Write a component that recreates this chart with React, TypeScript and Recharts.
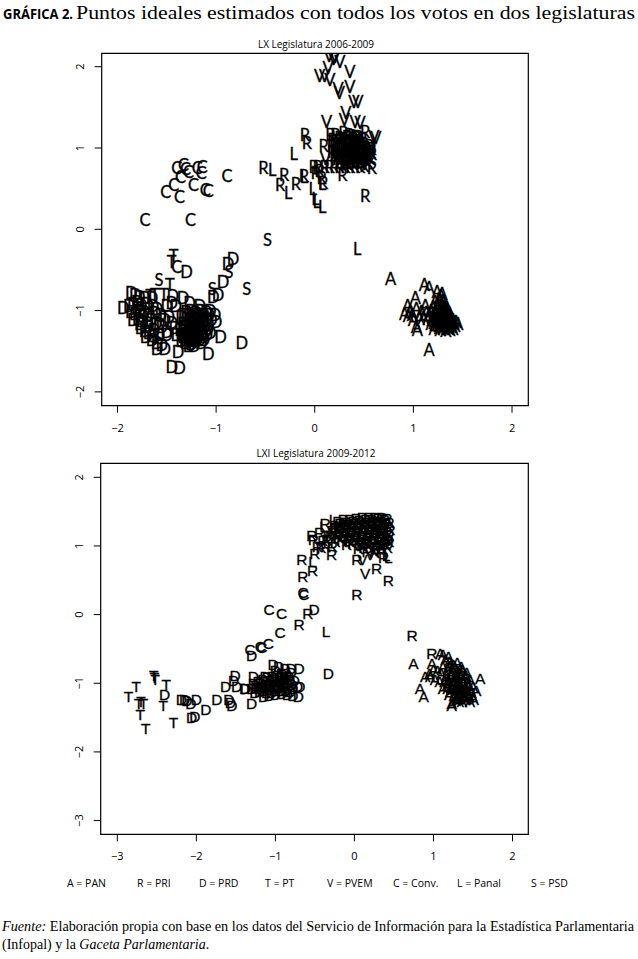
import React from 'react';
import { ScatterChart, Scatter, XAxis, YAxis, ReferenceArea } from 'recharts';

type P = [number, number];

// ---------- LX Legislatura 2006-2009 ----------
const lxPAN: P[] = [
  [0.77, -0.61], [1.16, -1.49], [1.11, -0.69], [1.16, -0.72], [1.24, -0.77], [1.29, -0.8],
  [1.02, -0.85], [0.94, -0.94], [0.91, -1.04], [0.95, -1.07], [0.99, -1.05], [1.04, -1.24],
  [1.08, -1.02], [1.12, -0.95], [1.03, -0.98], [0.97, -1.01], [1.0, -1.12], [1.03, -1.2],
  [1.28, -0.82], [1.26, -0.86], [1.3, -0.88], [1.22, -0.9], [1.25, -0.92], [1.29, -0.93],
  [1.33, -0.94], [1.2, -0.96], [1.24, -0.97], [1.27, -0.99], [1.31, -0.98], [1.35, -1.0],
  [1.18, -1.01], [1.22, -1.02], [1.26, -1.03], [1.29, -1.04], [1.33, -1.05], [1.37, -1.06],
  [1.16, -1.06], [1.2, -1.07], [1.24, -1.08], [1.28, -1.09], [1.32, -1.1], [1.36, -1.11],
  [1.4, -1.12], [1.15, -1.11], [1.19, -1.12], [1.23, -1.13], [1.27, -1.14], [1.31, -1.15],
  [1.35, -1.16], [1.39, -1.15], [1.43, -1.14], [1.18, -1.17], [1.22, -1.18], [1.26, -1.19],
  [1.3, -1.2], [1.34, -1.21], [1.38, -1.2], [1.42, -1.19], [1.45, -1.17], [1.21, -1.23],
  [1.27, -1.24], [1.33, -1.25], [1.37, -1.24], [1.4, -1.23], [1.1, -1.09], [1.13, -1.03],
  [1.06, -1.1], [1.3, -1.01], [1.34, -0.97], [1.25, -1.11], [1.29, -1.12], [1.21, -1.15],
  [1.245, -0.95], [1.285, -0.96], [1.325, -1.02], [1.365, -1.03], [1.225, -1.05], [1.265, -1.06],
  [1.305, -1.07], [1.345, -1.08], [1.385, -1.09], [1.205, -1.1], [1.245, -1.12], [1.285, -1.11],
  [1.325, -1.13], [1.365, -1.14], [1.405, -1.17], [1.245, -1.16], [1.285, -1.17], [1.325, -1.18],
  [1.365, -1.18], [1.305, -1.23], [1.355, -1.23], [1.265, -1.21],
];

const lxPRI: P[] = [
  [-0.1, 1.16], [-0.08, 1.06], [0.09, 1.03], [0.16, 1.16], [0.21, 1.16], [0.29, 1.18],
  [0.51, 1.2], [0.58, 0.93], [0.58, 0.75], [-0.52, 0.75], [-0.31, 0.67], [-0.35, 0.54],
  [-0.19, 0.56], [-0.11, 0.65], [-0.01, 0.77], [0.03, 0.77], [0.01, 0.69], [0.1, 0.77],
  [0.15, 0.77], [0.2, 0.77], [0.25, 0.77], [0.31, 0.77], [0.36, 0.77], [0.41, 0.77],
  [0.46, 0.77], [0.28, 0.67], [0.085, 0.57], [0.07, 0.63], [0.51, 0.41], [0.05, 0.72],
  [0.2, 1.05], [0.25, 1.08], [0.3, 1.1], [0.35, 1.12], [0.4, 1.1], [0.45, 1.08],
  [0.5, 1.05], [0.55, 1.02], [0.22, 0.98], [0.27, 1.0], [0.32, 1.02], [0.37, 1.04],
  [0.42, 1.03], [0.47, 1.01], [0.52, 0.98], [0.57, 0.95], [0.2, 0.92], [0.25, 0.93],
  [0.3, 0.95], [0.35, 0.96], [0.4, 0.97], [0.45, 0.95], [0.5, 0.92], [0.55, 0.88],
  [0.23, 0.86], [0.28, 0.88], [0.33, 0.89], [0.38, 0.9], [0.43, 0.89], [0.48, 0.87],
  [0.53, 0.84], [0.3, 0.82], [0.36, 0.84], [0.42, 0.83], [0.47, 0.81], [0.38, 1.15],
  [0.44, 1.14], [0.33, 1.06], [0.39, 1.0], [0.44, 0.99], [0.36, 0.92], [0.41, 0.93],
  [0.25, 1.12], [0.18, 1.1],
  [0.175, 1.02], [0.225, 1.05], [0.275, 1.11], [0.325, 1.13], [0.375, 1.08], [0.425, 1.06],
  [0.475, 1.03], [0.525, 1.0], [0.575, 0.99], [0.175, 0.95], [0.225, 0.95], [0.275, 0.97],
  [0.325, 0.99], [0.375, 0.98], [0.425, 0.96], [0.475, 0.94], [0.525, 0.9], [0.565, 0.86],
  [0.205, 0.89], [0.255, 0.9], [0.305, 0.91], [0.355, 0.87], [0.405, 0.88], [0.455, 0.91],
  [0.505, 0.86], [0.545, 0.81], [0.26, 0.82], [0.33, 0.8], [0.39, 0.81], [0.45, 0.84],
  [0.5, 0.78], [0.42, 1.12], [0.48, 1.11], [0.35, 1.16],
];

const lxPVEM: P[] = [
  [0.146, 2.13], [0.204, 2.12], [0.255, 2.06], [0.19, 2.1], [0.136, 1.98], [0.05, 1.88],
  [0.1, 1.88], [0.356, 1.93], [0.153, 1.84], [0.237, 1.72], [0.356, 1.75], [0.248, 1.67],
  [0.397, 1.57], [0.437, 1.56], [0.315, 1.43], [0.12, 1.32], [0.3, 1.34], [0.41, 1.32],
  [0.46, 1.31], [0.6, 1.13], [0.62, 1.12], [0.11, 0.87], [0.3, 0.85], [0.4, 0.87],
  [0.48, 0.9], [0.35, 1.0], [0.45, 1.05], [0.55, 0.96], [0.28, 0.92], [0.5, 0.8],
];

const lxPRD: P[] = [
  [-0.828, -0.36], [-0.878, -0.43], [-0.93, -0.65], [-0.98, -0.81], [-1.03, -0.83],
  [-1.3, -0.52], [-0.74, -1.4], [-0.955, -1.33], [-1.08, -1.53], [-1.385, -1.51],
  [-1.45, -1.69], [-1.37, -1.71], [-1.6, -1.47], [-1.52, -1.47], [-1.45, -0.91],
  [-1.335, -0.85], [-1.44, -0.82], [-1.27, -0.91], [-1.165, -0.95], [-1.06, -1.01],
  [-1.01, -1.06], [-1.0, -1.14], [-1.5, -0.94], [-1.41, -0.94], [-1.58, -1.16], [-1.5, -1.3],
  [-1.86, -0.79], [-1.82, -0.81], [-1.78, -0.83], [-1.72, -0.84], [-1.65, -0.85],
  [-1.94, -0.97], [-1.88, -0.95], [-1.84, -0.92], [-1.8, -0.9], [-1.76, -0.93],
  [-1.7, -0.92], [-1.64, -0.95], [-1.6, -0.98], [-1.86, -1.02], [-1.82, -1.04],
  [-1.78, -1.0], [-1.73, -1.02], [-1.68, -1.05], [-1.62, -1.03], [-1.56, -1.05],
  [-1.84, -1.12], [-1.79, -1.1], [-1.75, -1.13], [-1.7, -1.15], [-1.66, -1.12],
  [-1.61, -1.17], [-1.55, -1.2], [-1.76, -1.22], [-1.72, -1.25], [-1.68, -1.28],
  [-1.63, -1.24], [-1.58, -1.3], [-1.71, -1.33], [-1.65, -1.36], [-1.6, -1.4],
  [-1.55, -1.43], [-1.5, -1.27],
  [-1.3, -1.02], [-1.25, -1.0], [-1.2, -1.03], [-1.15, -1.0], [-1.1, -1.02],
  [-1.35, -1.08], [-1.3, -1.1], [-1.25, -1.08], [-1.2, -1.1], [-1.15, -1.08],
  [-1.1, -1.1], [-1.05, -1.12], [-1.33, -1.16], [-1.28, -1.18], [-1.23, -1.15],
  [-1.18, -1.17], [-1.13, -1.15], [-1.08, -1.18], [-1.36, -1.24], [-1.31, -1.25],
  [-1.26, -1.23], [-1.21, -1.26], [-1.16, -1.24], [-1.11, -1.26], [-1.06, -1.28],
  [-1.33, -1.32], [-1.28, -1.34], [-1.23, -1.31], [-1.18, -1.33], [-1.13, -1.32],
  [-1.3, -1.4], [-1.25, -1.41], [-1.2, -1.38], [-1.15, -1.4], [-1.35, -1.38],
  [-1.22, -1.2], [-1.27, -1.28], [-1.17, -1.21], [-1.19, -1.29], [-1.24, -1.36],
  [-1.48, -1.08], [-1.45, -1.15], [-1.42, -1.22], [-1.52, -1.12], [-1.4, -1.3],
  [-1.325, -1.05], [-1.275, -1.05], [-1.225, -1.06], [-1.175, -1.05], [-1.125, -1.06],
  [-1.075, -1.05], [-1.315, -1.2], [-1.265, -1.21], [-1.215, -1.18], [-1.165, -1.19],
  [-1.115, -1.2], [-1.085, -1.23], [-1.345, -1.3], [-1.295, -1.29], [-1.245, -1.27],
  [-1.195, -1.24], [-1.145, -1.28], [-1.095, -1.3], [-1.315, -1.36], [-1.265, -1.37],
  [-1.215, -1.35], [-1.165, -1.36], [-1.125, -1.36], [-1.275, -1.44], [-1.225, -1.44],
  [-1.8, -0.97], [-1.74, -1.07], [-1.69, -1.2], [-1.64, -1.31], [-1.77, -1.17],
];

const lxPT: P[] = [
  [-1.43, -0.33], [-1.45, -0.4], [-1.47, -0.69], [-1.62, -0.81], [-1.53, -0.81], [-1.67, -0.82],
];

const lxConv: P[] = [
  [-1.4, 0.75], [-1.33, 0.79], [-1.28, 0.71], [-1.19, 0.75], [-1.14, 0.77], [-1.15, 0.69],
  [-1.36, 0.64], [-1.43, 0.54], [-1.51, 0.46], [-1.37, 0.4], [-1.23, 0.54], [-1.11, 0.48],
  [-1.08, 0.47], [-0.89, 0.66], [-1.72, 0.11], [-1.26, 0.11], [-1.31, 0.74], [-1.4, -0.46],
];

const lxPanal: P[] = [
  [-0.213, 0.93], [-0.43, 0.73], [-0.27, 0.44], [-0.11, 0.64], [-0.02, 0.49], [0.007, 0.37],
  [0.02, 0.34], [0.075, 0.27], [0.075, 0.56], [0.43, -0.24],
];

const lxPSD: P[] = [
  [-0.48, -0.13], [-0.69, -0.73], [-0.87, -0.53], [-1.04, -0.73], [-1.58, -0.63],
];

// ---------- LXI Legislatura 2009-2012 ----------
const lxiPAN: P[] = [
  [0.747, -0.71], [0.98, -0.71], [1.085, -0.56], [1.12, -0.58], [1.19, -0.61], [0.895, -0.9],
  [0.958, -0.9], [0.83, -1.07], [0.875, -1.19], [1.59, -0.93], [1.23, -1.29], [1.32, -1.27],
  [1.46, -1.27], [1.51, -1.24], [1.23, -1.32],
  [1.15, -0.65], [1.2, -0.68], [1.25, -0.72], [1.3, -0.7], [1.35, -0.75], [1.12, -0.76],
  [1.18, -0.78], [1.24, -0.8], [1.3, -0.82], [1.36, -0.8], [1.42, -0.84], [1.05, -0.82],
  [1.1, -0.86], [1.16, -0.88], [1.22, -0.9], [1.28, -0.91], [1.34, -0.89], [1.4, -0.92],
  [1.46, -0.94], [1.02, -0.95], [1.08, -0.97], [1.14, -0.98], [1.2, -0.99], [1.26, -1.0],
  [1.32, -1.01], [1.38, -1.0], [1.44, -1.03], [1.5, -1.05], [1.12, -1.07], [1.18, -1.08],
  [1.24, -1.09], [1.3, -1.1], [1.36, -1.11], [1.42, -1.12], [1.48, -1.14], [1.54, -1.1],
  [1.2, -1.16], [1.26, -1.18], [1.32, -1.19], [1.38, -1.2], [1.44, -1.21], [1.5, -1.2],
  [1.28, -1.25], [1.36, -1.26], [1.0, -0.8], [0.95, -0.85], [1.28, -0.95], [1.34, -1.05],
  [1.22, -1.04], [1.4, -1.06], [1.16, -0.93], [1.46, -1.08],
  [1.23, -0.86], [1.29, -0.87], [1.35, -0.85], [1.41, -0.88], [1.19, -0.94], [1.25, -0.95],
  [1.31, -0.96], [1.37, -0.96], [1.43, -0.98], [1.17, -1.03], [1.23, -1.05], [1.29, -1.05],
  [1.35, -1.07], [1.41, -1.09], [1.47, -1.11], [1.21, -1.12], [1.27, -1.13], [1.33, -1.14],
  [1.39, -1.16], [1.45, -1.17], [1.31, -1.22], [1.4, -1.23], [1.27, -0.76], [1.21, -0.74],
];

const lxiPRI: P[] = [
  [0.98, -0.56], [0.73, -0.31], [0.43, 0.5], [0.03, 0.29], [0.28, 0.68], [0.03, 0.8],
  [0.37, 0.84], [-0.7, -0.14], [-0.59, 0.02], [-0.653, 0.55], [-0.53, 0.65], [-0.666, 0.8],
  [-0.37, 1.33], [-0.14, 1.35], [-0.54, 1.16], [-0.5, 0.89], [-0.35, 1.09], [-0.29, 0.87],
  [-0.52, 1.1], [-0.47, 0.99], [-0.28, 1.0],
  [-0.25, 1.3], [-0.18, 1.33], [-0.1, 1.35], [-0.02, 1.36], [0.06, 1.37], [0.14, 1.38],
  [0.22, 1.39], [0.3, 1.4], [0.38, 1.38], [0.44, 1.35],
  [-0.28, 1.22], [-0.2, 1.25], [-0.12, 1.27], [-0.04, 1.28], [0.04, 1.3], [0.12, 1.31],
  [0.2, 1.32], [0.28, 1.33], [0.36, 1.3], [0.43, 1.28],
  [-0.3, 1.14], [-0.22, 1.16], [-0.14, 1.18], [-0.06, 1.2], [0.02, 1.22], [0.1, 1.23],
  [0.18, 1.24], [0.26, 1.25], [0.34, 1.22], [0.42, 1.2],
  [-0.24, 1.07], [-0.16, 1.09], [-0.08, 1.1], [0.0, 1.12], [0.08, 1.14], [0.16, 1.15],
  [0.24, 1.16], [0.32, 1.14], [0.4, 1.12],
  [-0.1, 1.02], [-0.02, 1.04], [0.06, 1.05], [0.14, 1.06], [0.22, 1.07], [0.3, 1.06],
  [0.38, 1.04], [0.44, 1.07], [0.05, 0.97], [0.12, 0.98], [0.2, 0.99], [0.28, 0.97],
  [0.36, 0.96], [0.42, 0.98], [0.16, 0.92], [0.26, 0.9], [0.34, 0.92],
  [-0.44, 1.2], [-0.4, 1.08], [-0.36, 1.0], [-0.42, 0.98], [-0.33, 1.16],
  [-0.21, 1.36], [-0.14, 1.38], [-0.06, 1.39], [0.02, 1.4], [0.1, 1.41], [0.18, 1.42],
  [0.26, 1.42], [0.34, 1.41], [0.41, 1.4], [-0.24, 1.27], [-0.16, 1.29], [-0.08, 1.31],
  [0.0, 1.33], [0.08, 1.34], [0.16, 1.35], [0.24, 1.36], [0.32, 1.36], [0.4, 1.33],
  [-0.26, 1.19], [-0.18, 1.21], [-0.1, 1.23], [-0.02, 1.25], [0.06, 1.26], [0.14, 1.27],
  [0.22, 1.28], [0.3, 1.29], [0.38, 1.25], [0.45, 1.24], [-0.2, 1.12], [-0.12, 1.14],
  [-0.04, 1.16], [0.04, 1.18], [0.12, 1.19], [0.2, 1.2], [0.28, 1.2], [0.36, 1.18],
  [0.44, 1.15], [-0.06, 1.07], [0.02, 1.08], [0.1, 1.1], [0.18, 1.11], [0.26, 1.11],
  [0.34, 1.09], [0.42, 1.1], [0.09, 1.01], [0.17, 1.02], [0.25, 1.03], [0.33, 1.01], [0.4, 1.02],
];

const lxiPRD: P[] = [
  [-2.4, -1.16], [-2.19, -1.24], [-2.15, -1.24], [-2.12, -1.25], [-2.07, -1.29], [-2.0, -1.23],
  [-2.06, -1.5], [-2.02, -1.48], [-1.88, -1.38], [-1.74, -1.23], [-1.59, -1.23], [-1.55, -1.32],
  [-1.57, -1.28], [-1.63, -1.05], [-1.53, -0.96], [-1.49, -1.05], [-1.38, -1.07], [-1.3, -1.29],
  [-1.3, -0.59], [-0.51, 0.08], [-0.33, -0.85],
  [-1.28, -1.0], [-1.22, -0.98], [-1.16, -0.95], [-1.1, -0.92], [-1.04, -0.9], [-0.98, -0.88],
  [-0.92, -0.86], [-0.86, -0.85], [-0.8, -0.84],
  [-1.3, -1.08], [-1.24, -1.06], [-1.18, -1.04], [-1.12, -1.02], [-1.06, -1.0], [-1.0, -0.98],
  [-0.94, -0.96], [-0.88, -0.95], [-0.82, -0.94], [-0.76, -0.96],
  [-1.26, -1.14], [-1.2, -1.12], [-1.14, -1.1], [-1.08, -1.09], [-1.02, -1.07], [-0.96, -1.06],
  [-0.9, -1.05], [-0.84, -1.06], [-0.78, -1.08], [-0.72, -1.05],
  [-1.15, -1.19], [-1.08, -1.18], [-1.0, -1.16], [-0.92, -1.15], [-0.85, -1.16], [-0.78, -1.17],
  [-0.71, -1.19], [-1.03, -0.73], [-0.96, -0.76], [-0.88, -0.78], [-0.8, -0.78], [-0.7, -0.78],
  [-1.51, -0.88], [-1.28, -0.9], [-1.13, -0.9], [-1.39, -1.07], [-0.69, -1.05], [-1.0, -0.82],
  [-0.92, -0.9],
  [-1.25, -1.03], [-1.19, -1.0], [-1.13, -0.98], [-1.07, -0.96], [-1.01, -0.94], [-0.95, -0.92],
  [-0.89, -0.91], [-0.83, -0.9], [-1.21, -1.08], [-1.15, -1.06], [-1.09, -1.05], [-1.03, -1.04],
  [-0.97, -1.02], [-0.91, -1.0], [-0.85, -1.0], [-0.79, -1.02], [-1.11, -1.14], [-1.05, -1.13],
  [-0.99, -1.11], [-0.93, -1.1], [-0.87, -1.11], [-0.81, -1.12],
];

const lxiPT: P[] = [
  [-2.86, -1.19], [-2.76, -1.05], [-2.73, -1.29], [-2.67, -1.29], [-2.7, -1.26], [-2.71, -1.46],
  [-2.64, -1.66], [-2.54, -0.89], [-2.53, -0.91], [-2.52, -0.95], [-2.38, -1.01], [-2.42, -1.32],
  [-2.29, -1.57],
];

const lxiPVEM: P[] = [
  [0.135, 0.6], [0.1, 0.8], [0.2, 0.88], [0.28, 0.94], [0.22, 1.0], [0.08, 1.02],
];

const lxiConv: P[] = [
  [-1.32, -0.5], [-1.17, -0.48], [-1.09, -0.42], [-0.94, -0.26], [-1.08, 0.07], [-0.92, 0.02],
  [-0.65, 0.33], [-0.64, 0.3], [-1.19, -0.47],
];

const lxiPanal: P[] = [
  [-0.53, 0.77], [-0.36, -0.24], [0.43, 0.84], [-0.27, 1.38], [-0.39, 1.28], [0.4, 0.86],
];

const lxiPSD: P[] = [[0.43, 1.1]];

// ---------- Text ----------
const xTicksLX = [-2, -1, 0, 1, 2];
const yTicksLX = [-2, -1, 0, 1, 2];
const xTicksLXI = [-3, -2, -1, 0, 1, 2];
const yTicksLXI = [-3, -2, -1, 0, 1, 2];
const legendLabels = ['A = PAN', 'R = PRI', 'D = PRD', 'T = PT', 'V = PVEM', 'C = Conv.', 'L = Panal', 'S = PSD'];
const legendX = [67, 137, 199, 265, 327, 393, 457, 531];

const toObj = (arr: P[]) => arr.map(([x, y]) => ({ x, y }));

const fmt = (v: number) => (v < 0 ? '\u2212' + Math.abs(v) : String(v));

const AXIS_FONT = 'Open Sans, Noto Sans, sans-serif';

function letterShape(letter: string, font: string, size: number) {
  return (props: any) => {
    const { cx, cy } = props;
    if (cx == null || cy == null) return <g />;
    return (
      <text x={cx} y={cy} dy="0.36em" textAnchor="middle" fontFamily={font} fontSize={size} fill="#000" stroke="#000" strokeWidth={0.3}>
        {letter}
      </text>
    );
  };
}

const YTick = (props: any) => {
  const { x, y, payload } = props;
  const bx = x - 9;
  return (
    <text x={bx} y={y} transform={`rotate(-90 ${bx} ${y})`} textAnchor="middle" fontSize={11} fontFamily={AXIS_FONT} fill="#000">
      {fmt(payload.value)}
    </text>
  );
};

const XTick = (props: any) => {
  const { x, y, payload } = props;
  return (
    <text x={x} y={y + 17} textAnchor="middle" fontSize={11} fontFamily={AXIS_FONT} fill="#000">
      {fmt(payload.value)}
    </text>
  );
};

type Series = { letter: string; data: P[] };

function Panel(props: {
  series: Series[];
  xDomain: [number, number];
  yDomain: [number, number];
  xTicks: number[];
  yTicks: number[];
  height: number;
  margin: { top: number; right: number; bottom: number; left: number };
  font: string;
  size: number;
}) {
  const { series, xDomain, yDomain, xTicks, yTicks, height, margin, font, size } = props;
  return (
    <ScatterChart width={638} height={height} margin={margin}>
      <XAxis
        type="number"
        dataKey="x"
        domain={xDomain}
        ticks={xTicks}
        allowDataOverflow
        axisLine={false}
        tickLine={{ stroke: '#000' }}
        tickSize={7}
        tickMargin={2}
        height={30}
        tick={<XTick />}
        interval={0}
      />
      <YAxis
        type="number"
        dataKey="y"
        domain={yDomain}
        ticks={yTicks}
        allowDataOverflow
        axisLine={false}
        tickLine={{ stroke: '#000' }}
        tickSize={7}
        tickMargin={2}
        width={40}
        tick={<YTick />}
        interval={0}
      />
      <ReferenceArea
        x1={xDomain[0]}
        x2={xDomain[1]}
        y1={yDomain[0]}
        y2={yDomain[1]}
        fill="none"
        fillOpacity={0}
        stroke="#000"
        strokeWidth={1.2}
        ifOverflow="visible"
      />
      {series.map((s, i) => (
        <Scatter
          key={i}
          data={toObj(s.data)}
          isAnimationActive={false}
          shape={letterShape(s.letter, font, size)}
        />
      ))}
    </ScatterChart>
  );
}

const lxSeries: Series[] = [
  { letter: 'D', data: lxPRD },
  { letter: 'T', data: lxPT },
  { letter: 'C', data: lxConv },
  { letter: 'S', data: lxPSD },
  { letter: 'R', data: lxPRI },
  { letter: 'V', data: lxPVEM },
  { letter: 'L', data: lxPanal },
  { letter: 'A', data: lxPAN },
];

const lxiSeries: Series[] = [
  { letter: 'T', data: lxiPT },
  { letter: 'D', data: lxiPRD },
  { letter: 'C', data: lxiConv },
  { letter: 'R', data: lxiPRI },
  { letter: 'V', data: lxiPVEM },
  { letter: 'L', data: lxiPanal },
  { letter: 'S', data: lxiPSD },
  { letter: 'A', data: lxiPAN },
];

export default function App() {
  return (
    <div style={{ position: 'absolute', left: 0, top: 0, width: 638, height: 959, background: '#fff', overflow: 'hidden' }}>
      <div style={{ position: 'absolute', left: 0, top: 0 }}>
        <Panel
          series={lxSeries}
          xDomain={[-2.16, 2.165]}
          yDomain={[-2.17, 2.165]}
          xTicks={xTicksLX}
          yTicks={yTicksLX}
          height={440}
          margin={{ top: 53.3, right: 109.7, bottom: 4.3, left: 61.7 }}
          font="Lato, Open Sans, sans-serif"
          size={16.5}
        />
      </div>
      <div style={{ position: 'absolute', left: 0, top: 440 }}>
        <Panel
          series={lxiSeries}
          xDomain={[-3.21, 2.2]}
          yDomain={[-3.2, 2.204]}
          xTicks={xTicksLXI}
          yTicks={yTicksLXI}
          height={430}
          margin={{ top: 23.3, right: 109.7, bottom: 5.7, left: 60.7 }}
          font="Liberation Sans, Arial, sans-serif"
          size={15.5}
        />
      </div>
      <svg width={638} height={959} style={{ position: 'absolute', left: 0, top: 0, pointerEvents: 'none' }}>
        <text x={3} y={19} fontFamily="Open Sans, sans-serif" fontWeight={700} fontSize={14.5} fill="#000" textLength={70} lengthAdjust="spacingAndGlyphs">
          GRÁFICA 2.
        </text>
        <text x={76} y={19} fontFamily="Liberation Serif, serif" fontSize={19.5} fill="#000" textLength={559} lengthAdjust="spacingAndGlyphs">
          Puntos ideales estimados con todos los votos en dos legislaturas
        </text>
        <text x={316} y={47.5} textAnchor="middle" fontFamily={AXIS_FONT} fontSize={10} fill="#000">
          LX Legislatura 2006-2009
        </text>
        <text x={316} y={456.5} textAnchor="middle" fontFamily={AXIS_FONT} fontSize={10} fill="#000">
          LXI Legislatura 2009-2012
        </text>
        {legendLabels.map((l, i) => (
          <text key={l} x={legendX[i]} y={887} fontFamily={AXIS_FONT} fontSize={10.5} fill="#000">
            {l}
          </text>
        ))}
        <text x={2} y={931} fontFamily="Liberation Serif, serif" fontSize={14} fill="#000" textLength={632} lengthAdjust="spacingAndGlyphs">
          <tspan fontStyle="italic">Fuente:</tspan> Elaboración propia con base en los datos del Servicio de Información para la Estadística Parlamentaria
        </text>
        <text x={2} y={949} fontFamily="Liberation Serif, serif" fontSize={14} fill="#000">
          (Infopal) y la <tspan fontStyle="italic">Gaceta Parlamentaria</tspan>.
        </text>
      </svg>
    </div>
  );
}
